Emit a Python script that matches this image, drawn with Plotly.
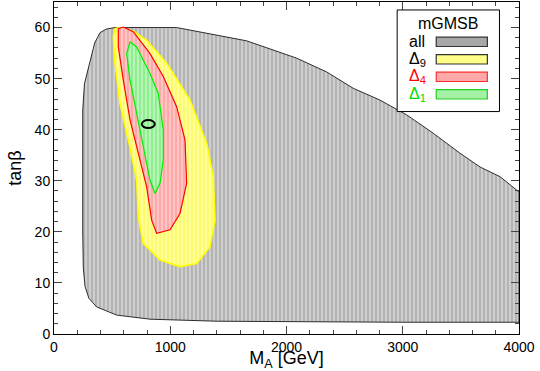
import plotly.graph_objects as go

# outline of the full scanned region ("all")
all_x = [525, 1055, 1657, 2088, 2346, 2575, 2804, 3034, 3263, 3492, 3665, 3837, 4000,
         4000, 3000, 2000, 1400, 826, 539, 367, 300, 267, 252, 247, 247, 262, 310, 350, 396, 450, 525]
all_y = [60, 60, 57.4, 54.0, 51.3, 48.1, 45.8, 42.9, 39.3, 35.4, 32.7, 30.8, 27.8,
         2.3, 2.3, 2.4, 2.5, 2.9, 3.7, 5.3, 7.0, 9.3, 13, 20, 43.8, 49, 53.3, 57, 59, 59.7, 60]

# Delta_9 region
d9_x = [525, 568, 680, 797, 969, 1170, 1314, 1370, 1385, 1342, 1228, 1084, 912, 768,
        725, 711, 654, 568, 525, 510, 525]
d9_y = [59.8, 60, 59.3, 57.5, 53, 45.8, 37.3, 30.8, 22.3, 17.1, 13.8, 13.2, 14.5, 17.7,
        23, 30.1, 36.5, 45.1, 53, 58.2, 59.8]

# Delta_4 region
d4_x = [553, 596, 682, 826, 940, 1055, 1127, 1141, 1084, 998, 883, 840, 797, 725, 654, 596, 553, 553]
d4_y = [59.8, 60.1, 59.2, 54.9, 50.4, 44.5, 38, 29.5, 23.6, 20.4, 19.7, 22.3, 28.8, 35.3, 41.9, 49.7, 56.2, 59.8]

# Delta_1 region
d1_x = [654, 711, 826, 897, 940, 940, 912, 869, 826, 768, 711, 654, 625, 654]
d1_y = [57.2, 56.2, 51, 47.1, 39.9, 34.1, 29.5, 27.5, 30.1, 36.7, 43.2, 49.7, 54.9, 57.2]

# best fit point
best_x = 811
best_y = 41.1

fig = go.Figure()

regions = [
    (all_x, all_y, "black", "#cecece", "#747474", 0.8),
    (d9_x, d9_y, "#ffff00", "#ffff9c", "#f6ee00", 1.6),
    (d4_x, d4_y, "#ff0000", "#ffc4c4", "#ff6666", 1.2),
    (d1_x, d1_y, "#00ee00", "#b8f6b8", "#30dc30", 1.2),
]
for xs, ys, line_color, bg, fg, width in regions:
    fig.add_trace(
        go.Scatter(
            x=xs,
            y=ys,
            mode="lines",
            fill="toself",
            fillcolor=bg,
            fillpattern={"shape": "|", "bgcolor": bg, "fgcolor": fg, "size": 4, "solidity": 0.3},
            line={"color": line_color, "width": width},
            showlegend=False,
            hoverinfo="skip",
        )
    )

# best fit ellipse (pixel sized around the data point)
fig.add_shape(
    type="circle", xref="x", yref="y", xsizemode="pixel", ysizemode="pixel",
    xanchor=best_x, yanchor=best_y, x0=-6.5, x1=6.5, y0=-4, y1=4,
    line={"color": "black", "width": 2},
)

# hand-made legend (text left, swatch right)
font = "Liberation Sans, Arial, sans-serif"
fig.add_shape(type="rect", xref="paper", yref="paper", x0=0.738, x1=0.958, y0=0.670, y1=0.976,
              line={"color": "black", "width": 1}, fillcolor="white", layer="above")
fig.add_annotation(x=0.848, y=0.934, xref="paper", yref="paper", text="mGMSB", showarrow=False,
                   xanchor="center", yanchor="middle",
                   font={"family": font, "size": 16, "color": "black"})
legend_rows = [
    ("all", "black", "#a8a8a8", "#333333"),
    ("Δ<sub>9</sub>", "black", "#ffff88", "#333333"),
    ("Δ<sub>4</sub>", "red", "#ffa8a8", "#ff3030"),
    ("Δ<sub>1</sub>", "#00dd00", "#a4f0a4", "#20d020"),
]
for i, (label, tcol, fill, edge) in enumerate(legend_rows):
    yc = 0.880 - i * 0.0527
    fig.add_annotation(x=0.760, y=yc, xref="paper", yref="paper", text=label, showarrow=False,
                       xanchor="left", yanchor="middle",
                       font={"family": font, "size": 16, "color": tcol})
    fig.add_shape(type="rect", xref="paper", yref="paper", x0=0.822, x1=0.932, y0=yc - 0.014, y1=yc + 0.014,
                  line={"color": edge, "width": 1.2}, fillcolor=fill, layer="above")

fig.update_layout(
    width=540,
    height=371,
    margin={"l": 54, "r": 21, "t": 2, "b": 37},
    plot_bgcolor="white",
    paper_bgcolor="white",
    font={"family": font, "size": 14, "color": "black"},
    showlegend=False,
)
fig.update_xaxes(
    range=[0, 4000], tickvals=[0, 1000, 2000, 3000, 4000], ticks="inside", ticklen=8,
    minor={"dtick": 200, "ticks": "inside", "ticklen": 4},
    showline=True, linecolor="black", linewidth=1, mirror="ticks", showgrid=False, zeroline=False,
    automargin=False,
    title={"text": "M<sub>A</sub> [GeV]", "font": {"size": 18}, "standoff": 4},
)
fig.update_yaxes(
    range=[0, 65], tickvals=[0, 10, 20, 30, 40, 50, 60], ticks="inside", ticklen=8,
    minor={"dtick": 2, "ticks": "inside", "ticklen": 4},
    showline=True, linecolor="black", linewidth=1, mirror="ticks", showgrid=False, zeroline=False,
    automargin=False,
    title={"text": "tanβ", "font": {"size": 18}, "standoff": 8},
)

fig.write_html("out.html", config={"displayModeBar": False},
               post_script="document.body.style.margin='0';")
